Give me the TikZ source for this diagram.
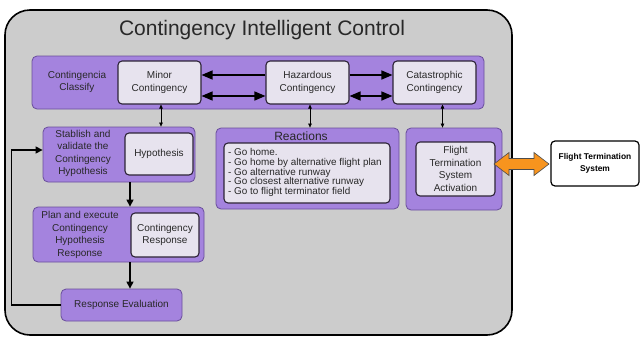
\documentclass[tikz,border=0pt]{standalone}
\usepackage{fontspec}
\setmainfont{Liberation Sans}
\usetikzlibrary{arrows.meta,calc}
\definecolor{pfill}{RGB}{164,131,222}
\definecolor{pborder}{RGB}{105,78,155}
\definecolor{ifill}{RGB}{231,227,238}
\definecolor{iborder}{RGB}{45,35,55}
\definecolor{gfill}{RGB}{204,204,204}
\definecolor{ofill}{RGB}{247,148,30}
\definecolor{txt}{RGB}{40,40,40}
\tikzset{
  outerbox/.style={draw=black, fill=gfill, line width=1.6pt, rounded corners=25pt, inner sep=0pt},
  purplebox/.style={draw=pborder, fill=pfill, line width=0.8pt, rounded corners=5pt, inner sep=0pt},
  innerbox/.style={draw=iborder, fill=ifill, line width=1.1pt, rounded corners=4pt, inner sep=0pt, align=center, text=txt, font=\fontsize{10}{12.5}\selectfont},
  lbl/.style={align=center, text=txt, inner sep=0pt, font=\fontsize{10}{12.5}\selectfont},
  bigarrow/.style={line width=1.4pt, -{Triangle[length=11pt,width=9pt]}},
  bigdarrow/.style={line width=1.4pt, {Triangle[length=11pt,width=9pt]}-{Triangle[length=11pt,width=9pt]}},
  thinarrow/.style={line width=0.6pt, {Triangle[length=4pt,width=3.5pt]}-{Triangle[length=4pt,width=3.5pt]}},
  midarrow/.style={line width=1.2pt, -{Triangle[length=7pt,width=7pt]}},
}
\begin{document}
\begin{tikzpicture}[x=1pt,y=-1pt]
\useasboundingbox (0,0) rectangle (640,338);
% outer
\node[outerbox, minimum width=507pt, minimum height=325pt] (outer) at (258.5,172.5) {};
\node[inner sep=0pt, font=\fontsize{21}{24}\selectfont, text=txt] (title) at (262,30) {Contingency Intelligent Control};
% top band
\node[purplebox, minimum width=452pt, minimum height=53pt] (band) at (258,82.5) {};
\node[lbl] (classify) at (77,82) {Contingencia\\Classify};
\node[innerbox, minimum width=83pt, minimum height=43pt] (minor) at (159.5,82.5) {Minor\\Contingency};
\node[innerbox, minimum width=83pt, minimum height=43pt] (haz) at (307.5,82.5) {Hazardous\\Contingency};
\node[innerbox, minimum width=83pt, minimum height=43pt] (cat) at (434.5,82.5) {Catastrophic\\Contingency};
% stablish
\node[purplebox, minimum width=152pt, minimum height=55pt] (stab) at (119,154.5) {};
\node[lbl] (stablbl) at (83,153.5) {Stablish and\\validate the\\Contingency\\Hypothesis};
\node[innerbox, minimum width=68pt, minimum height=42pt] (hyp) at (159,154) {Hypothesis};
% plan
\node[purplebox, minimum width=171pt, minimum height=55pt] (plan) at (118.5,234.5) {};
\node[lbl] (planlbl) at (80,235) {Plan and execute\\Contingency\\Hypothesis\\Response};
\node[innerbox, minimum width=68pt, minimum height=44pt] (cr) at (165,235) {Contingency\\Response};
% response evaluation
\node[purplebox, minimum width=121pt, minimum height=32pt, lbl, font=\fontsize{10}{12.5}\selectfont] (re) at (121.5,305) {Response Evaluation};
% reactions
\node[purplebox, minimum width=183pt, minimum height=81pt] (react) at (307.5,168.5) {};
\node[inner sep=0pt, text=txt, font=\fontsize{12}{14}\selectfont] (reacttitle) at (301,136) {Reactions};
\node[draw=iborder, fill=ifill, line width=1.1pt, rounded corners=4pt, minimum width=166pt, minimum height=60pt] (reactin) at (307,173) {};
\node[anchor=west, align=left, inner sep=0pt, text=txt, font=\fontsize{9.9}{9.6}\selectfont] (reactlist) at (228,172.5) {- Go home.\\- Go home by alternative flight plan\\- Go alternative runway\\- Go closest alternative runway\\- Go to flight terminator field};
% flight termination
\node[purplebox, minimum width=96pt, minimum height=82pt] (ftout) at (454,169) {};
\node[innerbox, minimum width=79pt, minimum height=54pt] (ftin) at (455.5,169) {Flight\\Termination\\System\\Activation};
% external
\node[draw=black, fill=white, line width=1.2pt, rounded corners=4pt, minimum width=88pt, minimum height=45pt, align=center, inner sep=0pt, font=\bfseries\fontsize{8.4}{11.5}\selectfont] (fts) at (595,163.5) {Flight Termination\\System};
% orange double arrow
\coordinate (oa) at (494,164);
\coordinate (ob) at (549,164);
\fill[ofill, draw=black!70, line width=0.6pt]
  (oa) -- ++(15,-11.5) -- ++(0,6) -- ($(ob)+(-15,-5.5)$) -- ++(0,-6) -- (ob)
  -- ++(-15,11.5) -- ++(0,-6) -- ($(oa)+(15,5.5)$) -- ++(0,6) -- cycle;
% horizontal arrows
\draw[bigarrow] ([yshift=7.5pt]haz.west) -- ([yshift=7.5pt]minor.east);
\draw[bigdarrow] ([yshift=-13.5pt]minor.east) -- ([yshift=-13.5pt]haz.west);
\draw[bigarrow] ([yshift=7.5pt]haz.east) -- ([yshift=7.5pt]cat.west);
\draw[bigdarrow] ([yshift=-13.5pt]haz.east) -- ([yshift=-13.5pt]cat.west);
% vertical arrows
\draw[thinarrow] ([xshift=1.5pt]minor.south) -- ([xshift=1.5pt]minor.south |- stab.north);
\draw[thinarrow] ([xshift=2.5pt]haz.south) -- ([xshift=2.5pt]haz.south |- react.north);
\draw[thinarrow] ([xshift=8pt]cat.south) -- ([xshift=8pt]cat.south |- ftout.north);
\draw[midarrow] (stab.south -| 130,0) -- (plan.north -| 130,0);
\draw[midarrow] (plan.south -| 130,0) -- (re.north -| 130,0);
% feedback
\draw[midarrow] (re.west) -- ++(-49,0) |- ([yshift=4.5pt]stab.west);
\end{tikzpicture}
\end{document}
